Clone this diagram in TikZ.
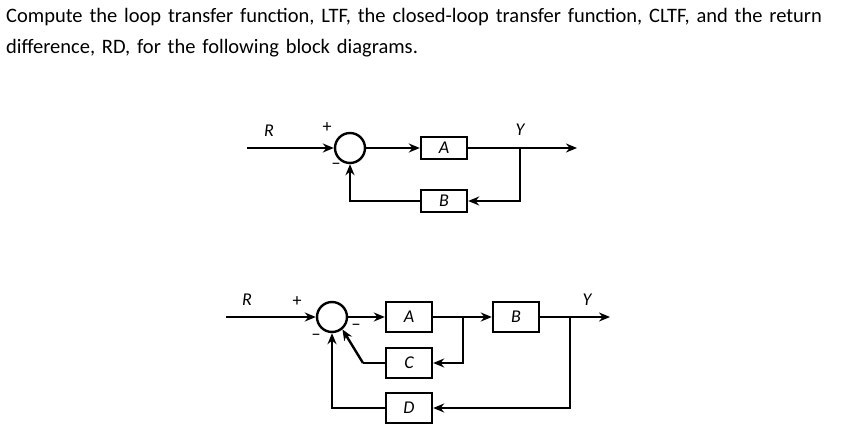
\documentclass[tikz,border=0pt]{standalone}
\usepackage{fontspec}
\setmainfont{Carlito}
\usetikzlibrary{arrows.meta}
\begin{document}
\begin{tikzpicture}[x=1pt,y=-1pt,
  blk/.style={draw,line width=2.4pt,minimum width=46pt,minimum height=22pt,inner sep=0pt,font=\itshape\fontsize{18}{18}\selectfont},
  sumj/.style={draw,circle,line width=2.4pt,minimum size=30pt,inner sep=0pt},
  wire/.style={line width=2.4pt},
  arr/.style={wire,-{Stealth[length=11pt,width=9pt]}},
  lbl/.style={font=\itshape\fontsize{18}{18}\selectfont},
  sg/.style={font=\fontsize{18}{18}\selectfont}]
\useasboundingbox (0,0) rectangle (854,433);
\node[anchor=base west,font=\fontsize{20.5}{31}\selectfont,align=left,text width=850pt,inner sep=0pt] (t) at (6,23)
 {Compute the loop transfer function, LTF, the closed-loop transfer function, CLTF, and the return\\difference, RD, for the following block diagrams.};
% diagram 1
\coordinate (r1) at (247,148);
\node[sumj] (s1) at (350,148) {};
\node[blk] (a1) at (444,148) {A};
\node[blk] (b1) at (444,201) {B};
\coordinate (j1) at (520,148);
\coordinate (y1) at (577,148);
\draw[arr] (r1) -- (s1);
\draw[arr] (s1) -- (a1);
\draw[arr] (a1) -- (y1);
\draw[arr] (j1) |- (b1);
\draw[arr] (b1) -| (s1);
\node[lbl] (R1) at (269,131) {R};
\node[lbl] (Y1) at (520,130) {Y};
\node[sg] (p1) at (327,128) {+};
\node[sg] (m1) at (336,166) {−};
% diagram 2
\coordinate (r2) at (226,317);
\node[sumj] (s2) at (332,317) {};
\node[blk,minimum height=30pt] (a2) at (409,317) {A};
\node[blk,minimum height=30pt] (b2) at (516,317) {B};
\node[blk,minimum height=30pt] (c2) at (409,363) {C};
\node[blk,minimum height=30pt] (d2) at (409,408) {D};
\coordinate (j2) at (463,317);
\coordinate (j3) at (570,317);
\coordinate (y2) at (610,317);
\coordinate (k2) at (363,363);
\draw[arr] (r2) -- (s2);
\draw[arr] (s2) -- (a2);
\draw[arr] (a2) -- (b2);
\draw[arr] (b2) -- (y2);
\draw[arr] (j2) |- (c2);
\draw[arr] (j3) |- (d2);
\draw[wire] (c2.west) -- (k2);
\draw[arr] (k2) -- (s2.-50);
\draw[arr] (d2) -| (s2);
\node[lbl] (R2) at (247,300) {R};
\node[lbl] (Y2) at (587,300) {Y};
\node[sg] (p2) at (297,302) {+};
\node[sg] (m2) at (316,337) {−};
\node[sg] (m3) at (356,327) {−};
\end{tikzpicture}
\end{document}
